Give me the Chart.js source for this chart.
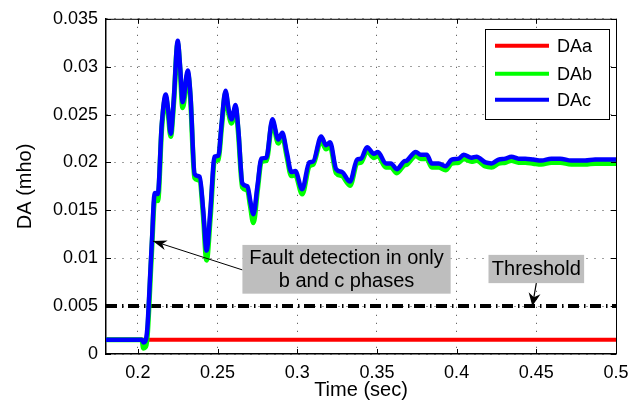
<!DOCTYPE html>
<html><head><meta charset="utf-8">
<script src="https://cdn.jsdelivr.net/npm/chart.js@4.4.1/dist/chart.umd.min.js"></script>
<style>html,body{margin:0;padding:0;background:#fff;}#wrap{width:639px;height:407px;}</style>
</head><body><div id="wrap"><canvas id="c" width="639" height="407"></canvas></div>
<script>
// ---- data ----
const time = [0.180,0.2025,0.2035,0.2045,0.2052,0.2060,0.2070,0.2080,0.2090,0.2100,0.2108,0.2125,0.2150,0.2175,0.2190,0.2206,0.2225,0.2250,0.2265,0.2281,0.2313,0.2330,0.2356,0.2388,0.2410,0.2431,0.2455,0.2481,0.2505,0.2525,0.2550,0.2570,0.2588,0.2613,0.2630,0.2656,0.2688,0.2705,0.2725,0.2750,0.2775,0.2806,0.2844,0.2881,0.2906,0.2935,0.2963,0.2988,0.3031,0.3075,0.3100,0.3150,0.3181,0.3206,0.3244,0.3281,0.3331,0.3375,0.3400,0.3438,0.3481,0.3506,0.3556,0.3588,0.3625,0.3669,0.3688,0.3744,0.3775,0.3813,0.3844,0.3888,0.3931,0.3969,0.4013,0.4044,0.4094,0.4125,0.4181,0.4219,0.4263,0.4306,0.4344,0.4388,0.4431,0.4481,0.4531,0.4594,0.4650,0.4719,0.4806,0.4869,0.5000];
const daC = [0.0015,0.0015,0.0012,0.0013,0.0016,0.0028,0.0058,0.0092,0.0124,0.0160,0.0168,0.0167,0.0240,0.0271,0.0255,0.0230,0.0265,0.0327,0.0300,0.0263,0.0296,0.0270,0.0188,0.0185,0.0150,0.0108,0.0150,0.0206,0.0207,0.0240,0.0275,0.0255,0.0245,0.0260,0.0235,0.0178,0.0175,0.0160,0.0146,0.0175,0.0204,0.0205,0.0245,0.0224,0.0231,0.0210,0.0190,0.0191,0.0172,0.0200,0.0201,0.0227,0.0218,0.0221,0.0193,0.0190,0.0180,0.0203,0.0204,0.0216,0.0209,0.0211,0.0199,0.0199,0.0193,0.0201,0.0202,0.0211,0.0208,0.0208,0.0199,0.0199,0.0196,0.0203,0.0204,0.0208,0.0205,0.0206,0.0200,0.0199,0.0203,0.0204,0.0206,0.0204,0.0204,0.0203,0.0202,0.0204,0.0204,0.0202,0.0202,0.0203,0.0203];
const daB = [0.0015,0.0015,0.0006,0.0007,0.0009,0.0020,0.0050,0.0085,0.0118,0.0153,0.0162,0.0160,0.0236,0.0268,0.0251,0.0227,0.0262,0.0324,0.0296,0.0257,0.0293,0.0266,0.0184,0.0181,0.0145,0.0098,0.0143,0.0201,0.0203,0.0236,0.0272,0.0251,0.0241,0.0257,0.0231,0.0174,0.0171,0.0155,0.0137,0.0170,0.0201,0.0202,0.0242,0.0220,0.0228,0.0206,0.0186,0.0187,0.0167,0.0196,0.0198,0.0223,0.0214,0.0217,0.0189,0.0186,0.0176,0.0199,0.0200,0.0212,0.0205,0.0207,0.0195,0.0195,0.0189,0.0197,0.0198,0.0207,0.0204,0.0204,0.0195,0.0195,0.0192,0.0199,0.0200,0.0204,0.0201,0.0202,0.0196,0.0195,0.0199,0.0200,0.0202,0.0200,0.0200,0.0199,0.0198,0.0200,0.0200,0.0198,0.0198,0.0199,0.0199];
const daATime = [0.18, 0.5];
const daA = [0.0015, 0.0015];
const thresholdTime = [0.18, 0.5];
const threshold = [0.005, 0.005];
const xTicks = [0.2, 0.25, 0.3, 0.35, 0.4, 0.45, 0.5];
const yTicks = [0, 0.005, 0.01, 0.015, 0.02, 0.025, 0.03, 0.035];
const seriesNames = ['DAa', 'DAb', 'DAc'];
const seriesColors = ['#ff0000', '#00ff00', '#0000ff'];
const faultNote = ['Fault detection in only', 'b and c phases'];
const thresholdNote = 'Threshold';

const pts = (xs, ys) => xs.map((x, i) => ({x: x, y: ys[i]}));
const FONT = '"Liberation Sans", Arial, Helvetica, sans-serif';

function arrowHead(ctx, x0, y0, x1, y1, len, half) {
  const a = Math.atan2(y1 - y0, x1 - x0);
  const c = Math.cos(a), s = Math.sin(a);
  const bx = x1 - len * c, by = y1 - len * s;
  const ix = x1 - len * 0.7 * c, iy = y1 - len * 0.7 * s;
  ctx.beginPath();
  ctx.moveTo(x1, y1);
  ctx.lineTo(bx - half * s, by + half * c);
  ctx.lineTo(ix, iy);
  ctx.lineTo(bx + half * s, by - half * c);
  ctx.closePath();
  ctx.fill();
}

const framePlugin = {
  id: 'frame',
  afterDatasetsDraw(chart) {
    const {ctx, chartArea: a, scales} = chart;
    ctx.save();
    ctx.strokeStyle = '#000';
    ctx.lineWidth = 1;
    ctx.beginPath();
    ctx.moveTo(a.left, a.top + 0.5); ctx.lineTo(a.right + 0.5, a.top + 0.5); ctx.lineTo(a.right + 0.5, a.bottom);
    ctx.stroke();
    const L = 5;
    ctx.beginPath();
    xTicks.forEach(v => {
      const x = Math.round(scales.x.getPixelForValue(v)) + 0.5;
      ctx.moveTo(x, a.bottom); ctx.lineTo(x, a.bottom - L);
      ctx.moveTo(x, a.top); ctx.lineTo(x, a.top + L);
    });
    yTicks.forEach(v => {
      const y = Math.round(scales.y.getPixelForValue(v)) + 0.5;
      ctx.moveTo(a.left, y); ctx.lineTo(a.left + L, y);
      ctx.moveTo(a.right, y); ctx.lineTo(a.right - L, y);
    });
    ctx.stroke();

    const X = v => scales.x.getPixelForValue(v);
    const Y = v => scales.y.getPixelForValue(v);
    ctx.font = '20px ' + FONT;
    ctx.textAlign = 'center';
    ctx.textBaseline = 'middle';
    // fault box
    const fx0 = X(0.2656), fx1 = X(0.39625), fy0 = Y(0.01139), fy1 = Y(0.0063);
    const tipX = X(0.2094), tipY = Y(0.0118);
    const tailX = fx0, tailY = fy0 + 25;
    ctx.strokeStyle = '#000'; ctx.fillStyle = '#000'; ctx.lineWidth = 1;
    ctx.beginPath(); ctx.moveTo(tailX, tailY); ctx.lineTo(tipX, tipY); ctx.stroke();
    arrowHead(ctx, tailX, tailY, tipX, tipY, 14, 5);
    ctx.fillStyle = '#bebebe';
    ctx.fillRect(fx0, fy0, fx1 - fx0, fy1 - fy0);
    ctx.fillStyle = '#000';
    const fcx = (fx0 + fx1) / 2;
    ctx.fillText(faultNote[0], fcx, fy0 + 14);
    ctx.fillText(faultNote[1], fcx, fy0 + 37);
    // threshold box
    const tx0 = X(0.42), tx1 = X(0.48), ty0 = Y(0.01035), ty1 = Y(0.0074);
    const ttX = X(0.4475), ttY = Y(0.005);
    const tcx = (tx0 + tx1) / 2;
    ctx.strokeStyle = '#000'; ctx.lineWidth = 1.2;
    ctx.beginPath(); ctx.moveTo(tcx, ty1); ctx.lineTo(ttX, ttY); ctx.stroke();
    ctx.fillStyle = '#000';
    arrowHead(ctx, tcx, ty1, ttX, ttY, 13, 6);
    ctx.fillStyle = '#bebebe';
    ctx.fillRect(tx0, ty0, tx1 - tx0, ty1 - ty0);
    ctx.fillStyle = '#000';
    ctx.fillText(thresholdNote, tcx, (ty0 + ty1) / 2);

    // legend
    const bw = 124, bh = 90;
    const bx = a.right - 7 - bw, by = a.top + 10;
    ctx.fillStyle = '#fff';
    ctx.fillRect(bx, by, bw, bh);
    ctx.strokeStyle = '#000'; ctx.lineWidth = 1;
    ctx.strokeRect(Math.round(bx) + 0.5, Math.round(by) + 0.5, bw, bh);
    ctx.font = '18px ' + FONT;
    ctx.textAlign = 'left';
    const rows = [17, 45, 71];
    seriesNames.forEach((n, i) => {
      const yy = by + rows[i];
      ctx.strokeStyle = seriesColors[i]; ctx.lineWidth = 4;
      ctx.beginPath(); ctx.moveTo(bx + 10, yy); ctx.lineTo(bx + 64, yy); ctx.stroke();
      ctx.fillStyle = '#000';
      ctx.fillText(n, bx + 72, yy + 1);
    });
    ctx.restore();
  }
};

new Chart(document.getElementById('c'), {
  type: 'line',
  data: {
    datasets: [
      {label: seriesNames[2], data: pts(time, daC), borderColor: seriesColors[2], borderWidth: 4.5, pointRadius: 0, cubicInterpolationMode: 'monotone'},
      {label: seriesNames[1], data: pts(time, daB), borderColor: seriesColors[1], borderWidth: 5, pointRadius: 0, cubicInterpolationMode: 'monotone'},
      {label: seriesNames[0], data: pts(daATime, daA), borderColor: seriesColors[0], borderWidth: 4, pointRadius: 0},
      {label: 'Threshold', data: pts(thresholdTime, threshold), borderColor: '#000', borderWidth: 4, borderDash: [11, 5, 1.5, 4.5], pointRadius: 0}
    ]
  },
  options: {
    responsive: false,
    animation: false,
    devicePixelRatio: 1,
    layout: {padding: {left: 0, top: 16, right: 23, bottom: 0}},
    plugins: {legend: {display: false}, tooltip: {enabled: false}},
    scales: {
      x: {
        type: 'linear', min: 0.18, max: 0.5,
        afterBuildTicks: s => { s.ticks = xTicks.map(v => ({value: v})); },
        afterFit: s => { s.height = 53; },
        ticks: {color: '#000', font: {size: 18, family: FONT}, padding: 8, maxRotation: 0,
          callback: v => String(Number(v.toFixed(3)))},
        grid: {color: 'rgba(0,0,0,0.75)', lineWidth: 1, drawTicks: false},
        border: {display: true, color: '#000', width: 1.5, dash: [1, 7]},
        title: {display: true, text: 'Time (sec)', color: '#000', font: {size: 20, family: FONT}, padding: {top: 0, bottom: 5}}
      },
      y: {
        type: 'linear', min: 0, max: 0.035,
        afterBuildTicks: s => { s.ticks = yTicks.map(v => ({value: v})); },
        afterFit: s => { s.width = 106; },
        ticks: {color: '#000', font: {size: 18, family: FONT}, padding: 8,
          callback: v => String(Number(v.toFixed(3)))},
        grid: {color: 'rgba(0,0,0,0.75)', lineWidth: 1, drawTicks: false},
        border: {display: true, color: '#000', width: 1.5, dash: [1, 7]},
        title: {display: true, text: 'DA (mho)', color: '#000', font: {size: 20, family: FONT}, padding: {top: 13, bottom: 0}}
      }
    }
  },
  plugins: [framePlugin]
});
</script></body></html>
